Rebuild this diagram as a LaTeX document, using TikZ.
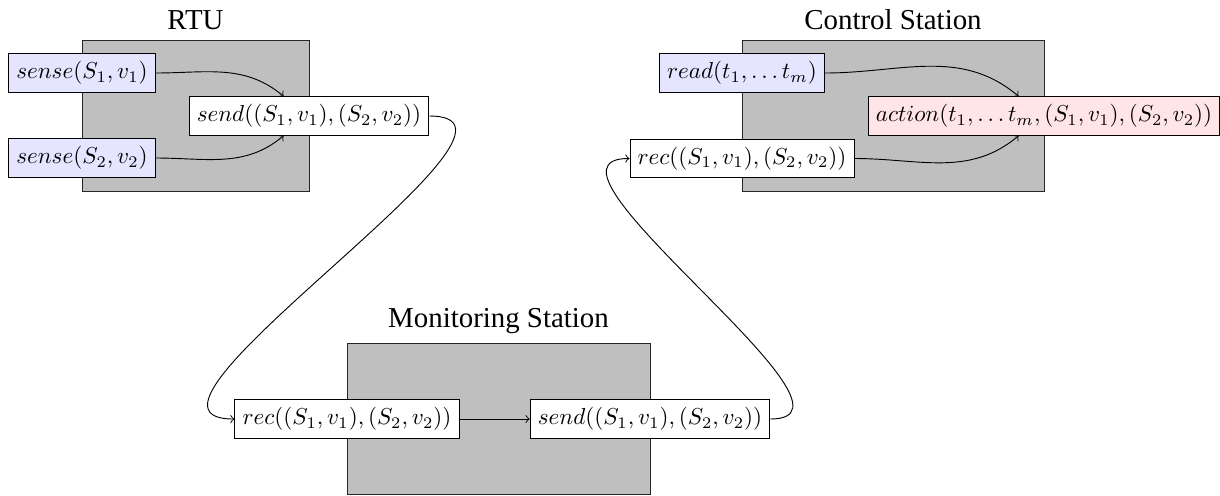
\documentclass[tikz,border=0pt]{standalone}
\usepackage[no-math]{fontspec}
\setmainfont{Liberation Serif}
\usetikzlibrary{calc}
\begin{document}
\begin{tikzpicture}[x=0.4329pt,y=0.4329pt,
  station/.style={draw=black!85, fill=lightgray, line width=0.4pt},
  proc/.style={draw, fill=white, line width=0.4pt},
  input/.style={proc, fill=blue!10},
  output/.style={proc, fill=red!10},
  stitle/.style={font=\rmfamily\fontsize{12.5}{15}\selectfont, anchor=base, inner sep=0pt},
  flow/.style={->, line width=0.4pt}]
\useasboundingbox (0,0) rectangle (1220,-495);

% station frames
\draw[station] (82,-40) rectangle (309,-191);
\draw[station] (742,-40) rectangle (1044,-191);
\draw[station] (347,-343) rectangle (650,-494);

% station titles
\node[stitle] (trtu) at (195.5,-29.5) {RTU};
\node[stitle] (tctl) at (893,-29.5) {Control Station};
\node[stitle] (tmon) at (498.5,-327) {Monitoring Station};

% RTU
\node[input] (sense1) at (82,-73) {$sense(S_1,v_1)$};
\node[input] (sense2) at (82,-158) {$sense(S_2,v_2)$};
\node[proc] (rsend) at (309,-116) {$send((S_1,v_1),(S_2,v_2))$};

% Control Station
\node[input] (read) at (742,-73) {$read(t_1,\dots t_m)$};
\node[proc] (crec) at (742,-158.5) {$rec((S_1,v_1),(S_2,v_2))$};
\node[output] (action) at (1044,-116) {$action(t_1,\dots t_m,(S_1,v_1),(S_2,v_2))$};

% Monitoring Station
\node[proc] (mrec) at (347,-419) {$rec((S_1,v_1),(S_2,v_2))$};
\node[proc] (msend) at (650,-419) {$send((S_1,v_1),(S_2,v_2))$};

% connectors
\draw[flow] (sense1.east) to[out=0,in=140] ([xshift=-11pt]rsend.north);
\draw[flow] (sense2.east) to[out=0,in=-140] ([xshift=-11pt]rsend.south);
\draw[flow] (rsend.east) to[out=0,in=180] (mrec.west);
\draw[flow] (mrec.east) -- (msend.west);
\draw[flow] (msend.east) to[out=0,in=180] (crec.west);
\draw[flow] (read.east) to[out=0,in=140] ([xshift=-11pt]action.north);
\draw[flow] (crec.east) to[out=0,in=-140] ([xshift=-11pt]action.south);
\end{tikzpicture}
\end{document}
